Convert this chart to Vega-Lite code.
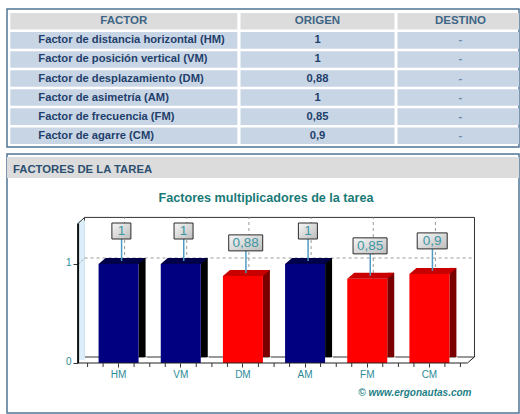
{
  "$schema": "https://vega.github.io/schema/vega-lite/v6.json",
  "padding": {"left": 6, "top": 8, "right": 0, "bottom": 0},
  "background": "white",
  "config": {
    "view": {"stroke": null},
    "font": "Liberation Sans",
    "locale": {"number": {"decimal": ",", "thousands": ".", "grouping": [3], "currency": ["", " €"]}}
  },
  "datasets": {
    "tabla": [
      {"fila": 0, "factor": "FACTOR", "origen": "ORIGEN", "destino": "DESTINO"},
      {"fila": 1, "factor": "Factor de distancia horizontal (HM)", "origen": "1", "destino": "-"},
      {"fila": 2, "factor": "Factor de posición vertical (VM)", "origen": "1", "destino": "-"},
      {"fila": 3, "factor": "Factor de desplazamiento (DM)", "origen": "0,88", "destino": "-"},
      {"fila": 4, "factor": "Factor de asimetría (AM)", "origen": "1", "destino": "-"},
      {"fila": 5, "factor": "Factor de frecuencia (FM)", "origen": "0,85", "destino": "-"},
      {"fila": 6, "factor": "Factor de agarre (CM)", "origen": "0,9", "destino": "-"}
    ],
    "barras": [
      {"sigla": "HM", "valor": 1},
      {"sigla": "VM", "valor": 1},
      {"sigla": "DM", "valor": 0.88},
      {"sigla": "AM", "valor": 1},
      {"sigla": "FM", "valor": 0.85},
      {"sigla": "CM", "valor": 0.9}
    ]
  },
  "spacing": 5,
  "vconcat": [
    {
      "width": 512, "height": 138,
      "view": {"stroke": "#4f7695", "strokeWidth": 1.5},
      "data": {"name": "tabla"},
      "layer": [
        {"mark": {"type": "rect", "width": 227, "xOffset": 31.5},
         "encoding": {
           "x": {"datum": "FACTOR", "type": "nominal", "scale": {"domain": ["FACTOR", "ORIGEN", "DESTINO"], "paddingInner": 0, "paddingOuter": 0}, "axis": null},
           "y": {"field": "fila", "type": "ordinal", "scale": {"range": [4, 135], "paddingInner": 0.13, "paddingOuter": 0}, "axis": null},
           "fill": {"condition": {"test": "datum.fila === 0", "value": "#dcdcdc"}, "value": "#c8d5e4"}}},
        {"mark": {"type": "rect", "width": 154, "xOffset": 54.5},
         "encoding": {
           "x": {"datum": "ORIGEN", "type": "nominal", "axis": null},
           "y": {"field": "fila", "type": "ordinal", "axis": null},
           "fill": {"condition": {"test": "datum.fila === 0", "value": "#dcdcdc"}, "value": "#c8d5e4"}}},
        {"mark": {"type": "rect", "width": 154, "xOffset": 40.8, "clip": true},
         "encoding": {
           "x": {"datum": "DESTINO", "type": "nominal", "axis": null},
           "y": {"field": "fila", "type": "ordinal", "axis": null},
           "fill": {"condition": {"test": "datum.fila === 0", "value": "#dcdcdc"}, "value": "#c8d5e4"}}},
        {"transform": [{"filter": "datum.fila === 0"}],
         "mark": {"type": "text", "xOffset": 31.5, "fontSize": 11.5, "fontWeight": "bold", "color": "#3e6585"},
         "encoding": {"x": {"datum": "FACTOR", "type": "nominal", "axis": null}, "y": {"field": "fila", "type": "ordinal", "axis": null}, "text": {"field": "factor"}}},
        {"transform": [{"filter": "datum.fila > 0"}],
         "mark": {"type": "text", "align": "left", "xOffset": -54, "fontSize": 11.2, "fontWeight": "bold", "color": "#1f3f6c"},
         "encoding": {"x": {"datum": "FACTOR", "type": "nominal", "axis": null}, "y": {"field": "fila", "type": "ordinal", "axis": null}, "text": {"field": "factor"}}},
        {"transform": [{"filter": "datum.fila === 0"}],
         "mark": {"type": "text", "xOffset": 54.5, "fontSize": 11.5, "fontWeight": "bold", "color": "#3e6585"},
         "encoding": {"x": {"datum": "ORIGEN", "type": "nominal", "axis": null}, "y": {"field": "fila", "type": "ordinal", "axis": null}, "text": {"field": "origen"}}},
        {"transform": [{"filter": "datum.fila > 0"}],
         "mark": {"type": "text", "xOffset": 54.5, "fontSize": 11.2, "fontWeight": "bold", "color": "#1f3f6c"},
         "encoding": {"x": {"datum": "ORIGEN", "type": "nominal", "axis": null}, "y": {"field": "fila", "type": "ordinal", "axis": null}, "text": {"field": "origen"}}},
        {"transform": [{"filter": "datum.fila === 0"}],
         "mark": {"type": "text", "xOffset": 26.8, "fontSize": 11.5, "fontWeight": "bold", "color": "#3e6585"},
         "encoding": {"x": {"datum": "DESTINO", "type": "nominal", "axis": null}, "y": {"field": "fila", "type": "ordinal", "axis": null}, "text": {"field": "destino"}}},
        {"transform": [{"filter": "datum.fila > 0"}],
         "mark": {"type": "text", "xOffset": 26.8, "fontSize": 11.2, "fontWeight": "bold", "color": "#6a88a8"},
         "encoding": {"x": {"datum": "DESTINO", "type": "nominal", "axis": null}, "y": {"field": "fila", "type": "ordinal", "axis": null}, "text": {"field": "destino"}}}
      ]
    },
    {
      "width": 512, "height": 259,
      "view": {"stroke": "#4f7695", "strokeWidth": 1.5},
      "data": {"name": "barras"},
      "layer": [
        {"transform": [{"filter": "datum.sigla === 'HM'"}],
         "mark": {"type": "rect", "fill": "#dcdcdc", "xOffset": 0, "x2Offset": 3},
         "encoding": {"y": {"datum": 2.0808, "type": "quantitative"}, "y2": {"datum": 1.8687}}},
        {"transform": [{"filter": "datum.sigla === 'HM'"}],
         "mark": {"type": "text", "align": "left", "baseline": "alphabetic", "dx": -250, "fontSize": 11.3, "fontWeight": "bold", "color": "#2c4f70"},
         "encoding": {"y": {"datum": 1.9192, "type": "quantitative"}, "text": {"value": "FACTORES DE LA TAREA"}}},
        {"transform": [{"filter": "datum.sigla === 'HM'"}],
         "mark": {"type": "text", "align": "center", "baseline": "alphabetic", "dx": 3, "fontSize": 12.6, "fontWeight": "bold", "color": "#1a7a78"},
         "encoding": {"y": {"datum": 1.63, "type": "quantitative"}, "text": {"value": "Factores multiplicadores de la tarea"}}},
        {"transform": [{"filter": "datum.sigla === 'HM'"}],
         "mark": {"type": "bar", "width": 390, "xOffset": 160.9, "yOffset": -6, "y2Offset": -6, "fill": "white", "stroke": "#333333", "strokeWidth": 1},
         "encoding": {"x": {"datum": "HM", "type": "nominal"}, "y": {"datum": 1.41, "type": "quantitative"}, "y2": {"datum": 0}}},
        {"transform": [{"filter": "datum.sigla === 'HM'"}],
         "mark": {"type": "bar", "width": 6.5, "xOffset": -36.9, "yOffset": -3, "y2Offset": -3, "fill": "#dbeef9"},
         "encoding": {"x": {"datum": "HM", "type": "nominal"}, "y": {"datum": 1.41, "type": "quantitative"}, "y2": {"datum": 0}}},
        {"transform": [{"filter": "datum.sigla === 'HM'"}],
         "mark": {"type": "rule", "xOffset": -34, "x2Offset": 45, "yOffset": -6, "color": "#999999", "strokeDash": [3, 3]},
         "encoding": {"x": {"datum": "HM", "type": "nominal", "bandPosition": 0.5}, "x2": {"datum": "CM", "bandPosition": 0.5}, "y": {"datum": 1, "type": "quantitative"}}},
        {"transform": [{"filter": "datum.sigla === 'HM'"}],
         "mark": {"type": "rule", "xOffset": -40, "x2Offset": -34, "y2Offset": -6, "color": "#999999", "strokeDash": [2, 2]},
         "encoding": {"x": {"datum": "HM", "type": "nominal", "bandPosition": 0.5}, "x2": {"datum": "HM", "bandPosition": 0.5}, "y": {"datum": 1, "type": "quantitative"}, "y2": {"datum": 1}}},
        {"mark": {"type": "rule", "xOffset": 6, "yOffset": -6, "y2Offset": -6, "color": "#999999", "strokeDash": [3, 3]},
         "encoding": {"x": {"field": "sigla", "type": "nominal"}, "y": {"datum": 0, "type": "quantitative"}, "y2": {"datum": 1.41}}},
        {"transform": [{"filter": "datum.sigla === 'HM'"}],
         "mark": {"type": "rule", "xOffset": -40.5, "color": "#111111", "strokeWidth": 2},
         "encoding": {"x": {"datum": "HM", "type": "nominal", "bandPosition": 0.5}, "y": {"datum": 0, "type": "quantitative"}, "y2": {"datum": 1.41}}},
        {"transform": [{"filter": "datum.sigla === 'HM'"}],
         "mark": {"type": "rule", "xOffset": -40.5, "x2Offset": -34, "y2Offset": -6, "color": "#333333", "strokeWidth": 1},
         "encoding": {"x": {"datum": "HM", "type": "nominal", "bandPosition": 0.5}, "x2": {"datum": "HM", "bandPosition": 0.5}, "y": {"datum": 1.41, "type": "quantitative"}, "y2": {"datum": 1.41}}},
        {"mark": {"type": "bar", "width": 7, "xOffset": 23.5, "yOffset": -6},
         "encoding": {"x": {"field": "sigla", "type": "nominal"}, "y": {"field": "valor", "type": "quantitative"},
           "color": {"condition": {"test": "datum.valor < 1", "value": "#7a0000"}, "value": "#000000"}}},
        {"mark": {"type": "bar", "width": 40},
         "encoding": {
           "x": {"field": "sigla", "type": "nominal",
             "scale": {"domain": ["HM", "VM", "DM", "AM", "FM", "CM"], "range": [80.5, 453.5], "paddingInner": 0.355, "paddingOuter": 0.1775},
             "axis": {"orient": "bottom", "offset": -50, "domain": false, "grid": false, "tickSize": 4, "tickColor": "#333333", "labelColor": "#2e8b99", "labelFontSize": 10, "labelPadding": 2, "labelAngle": 0, "labelAlign": "center", "labelBaseline": "top",
               "title": "© www.ergonautas.com", "titleFontSize": 10, "titleFontStyle": "italic", "titleFontWeight": "bold", "titleColor": "#1f7f86", "titleX": 464, "titleY": 29, "titleAlign": "right", "titleBaseline": "middle"}},
           "y": {"field": "valor", "type": "quantitative",
             "scale": {"domain": [0, 1], "range": [209, 110], "nice": false},
             "axis": {"values": [0, 1], "offset": -71, "domain": false, "grid": false, "tickSize": 5, "tickColor": "#333333", "labelColor": "#2e8b99", "labelFontSize": 10, "labelPadding": 2, "labelBaseline": "middle", "labelOffset": -1.5, "title": null, "format": "~g"}},
           "color": {"condition": {"test": "datum.valor < 1", "value": "#ff0000"}, "value": "#000080"}}},
        {"mark": {"type": "point", "shape": "M -20 0 L 20 0 L 27 -6 L -13 -6 Z", "size": 4, "filled": true, "opacity": 1, "strokeWidth": 0},
         "encoding": {"x": {"field": "sigla", "type": "nominal"}, "y": {"field": "valor", "type": "quantitative"},
           "color": {"condition": {"test": "datum.valor < 1", "value": "#c80000"}, "value": "#00004a"}}},
        {"mark": {"type": "point", "shape": "M 20 0 L 28 -6.86 L 28 0.7 L 20 0.7 Z", "size": 4, "filled": true, "opacity": 1, "strokeWidth": 0, "color": "white"},
         "encoding": {"x": {"field": "sigla", "type": "nominal"}, "y": {"datum": 0, "type": "quantitative"}}},
        {"transform": [{"filter": "datum.sigla === 'HM'"}],
         "mark": {"type": "rule", "xOffset": -40, "x2Offset": 38, "color": "#222222", "strokeWidth": 1},
         "encoding": {"x": {"datum": "HM", "type": "nominal", "bandPosition": 0.5}, "x2": {"datum": "CM", "bandPosition": 0.5}, "y": {"datum": 0, "type": "quantitative"}}},
        {"transform": [{"filter": "datum.sigla === 'HM'"}],
         "mark": {"type": "rule", "xOffset": 38, "x2Offset": 45, "y2Offset": -6, "color": "#222222", "strokeWidth": 1},
         "encoding": {"x": {"datum": "CM", "type": "nominal", "bandPosition": 0.5}, "x2": {"datum": "CM", "bandPosition": 0.5}, "y": {"datum": 0, "type": "quantitative"}, "y2": {"datum": 0}}},
        {"mark": {"type": "rule", "xOffset": -15.5, "y2Offset": 4, "color": "#333333"},
         "encoding": {"x": {"field": "sigla", "type": "nominal"}, "y": {"datum": 0, "type": "quantitative"}, "y2": {"datum": 0}}},
        {"mark": {"type": "rule", "xOffset": -31, "y2Offset": 4, "color": "#333333"},
         "encoding": {"x": {"field": "sigla", "type": "nominal"}, "y": {"datum": 0, "type": "quantitative"}, "y2": {"datum": 0}}},
        {"mark": {"type": "rule", "xOffset": 15.5, "y2Offset": 4, "color": "#333333"},
         "encoding": {"x": {"field": "sigla", "type": "nominal"}, "y": {"datum": 0, "type": "quantitative"}, "y2": {"datum": 0}}},
        {"transform": [{"filter": "datum.sigla === 'CM'"}],
         "mark": {"type": "rule", "xOffset": 31, "y2Offset": 4, "color": "#333333"},
         "encoding": {"x": {"field": "sigla", "type": "nominal"}, "y": {"datum": 0, "type": "quantitative"}, "y2": {"datum": 0}}},
        {"mark": {"type": "rule", "xOffset": 3, "yOffset": -3, "y2Offset": -25, "color": "#4f9bc4", "strokeWidth": 1.5},
         "encoding": {"x": {"field": "sigla", "type": "nominal"}, "y": {"field": "valor", "type": "quantitative"}, "y2": {"field": "valor"}}},
        {"transform": [{"filter": "length(toString(datum.valor)) == 1"}],
         "mark": {"type": "bar", "width": 19, "xOffset": 2.8, "yOffset": -41, "y2Offset": -25, "stroke": "#2a2a2a", "strokeWidth": 1,
           "fill": {"gradient": "linear", "x1": 0, "y1": 0, "x2": 1, "y2": 1, "stops": [{"offset": 0, "color": "#f7f7f7"}, {"offset": 1, "color": "#bdbdbd"}]}},
         "encoding": {"x": {"field": "sigla", "type": "nominal"}, "y": {"field": "valor", "type": "quantitative"}, "y2": {"field": "valor"}}},
        {"transform": [{"filter": "length(toString(datum.valor)) == 3"}],
         "mark": {"type": "bar", "width": 30, "xOffset": 2.8, "yOffset": -41, "y2Offset": -25, "stroke": "#2a2a2a", "strokeWidth": 1,
           "fill": {"gradient": "linear", "x1": 0, "y1": 0, "x2": 1, "y2": 1, "stops": [{"offset": 0, "color": "#f7f7f7"}, {"offset": 1, "color": "#bdbdbd"}]}},
         "encoding": {"x": {"field": "sigla", "type": "nominal"}, "y": {"field": "valor", "type": "quantitative"}, "y2": {"field": "valor"}}},
        {"transform": [{"filter": "length(toString(datum.valor)) == 4"}],
         "mark": {"type": "bar", "width": 34, "xOffset": 2.8, "yOffset": -41, "y2Offset": -25, "stroke": "#2a2a2a", "strokeWidth": 1,
           "fill": {"gradient": "linear", "x1": 0, "y1": 0, "x2": 1, "y2": 1, "stops": [{"offset": 0, "color": "#f7f7f7"}, {"offset": 1, "color": "#bdbdbd"}]}},
         "encoding": {"x": {"field": "sigla", "type": "nominal"}, "y": {"field": "valor", "type": "quantitative"}, "y2": {"field": "valor"}}},
        {"mark": {"type": "text", "xOffset": 2.8, "yOffset": -33, "fontSize": 13.5, "color": "#3d96a3"},
         "encoding": {"x": {"field": "sigla", "type": "nominal"}, "y": {"field": "valor", "type": "quantitative"},
           "text": {"field": "valor", "type": "quantitative", "format": ".2~f"}}}
      ]
    }
  ]
}
